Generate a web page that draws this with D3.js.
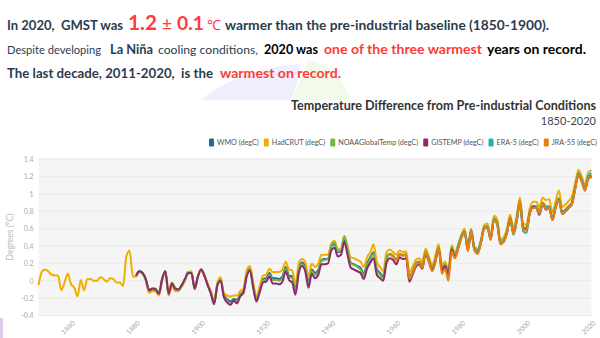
<!DOCTYPE html>
<html>
<head>
<meta charset="utf-8">
<script src="https://cdn.jsdelivr.net/npm/d3@7"></script>
<style>
  body { margin: 0; background: #fff; }
  svg { display: block; font-family: Lato, "Open Sans", sans-serif; }
</style>
</head>
<body>
<svg id="chart" width="600" height="338"></svg>
<script>
// annual global mean temperature difference from 1850-1900 (degC)
var seriesNames = ["WMO (degC)", "HadCRUT (degC)", "NOAAGlobalTemp (degC)", "GISTEMP (degC)", "ERA-5 (degC)", "JRA-55 (degC)"];
var seriesColors = ["#1f6a9a", "#f0ae00", "#72b843", "#8c2a6c", "#27aeb0", "#ea7f0c"];
var startYears = [1880, 1850, 1880, 1880, 1979, 1958];

var wmo = [
  0.06, 0.11, 0.09, 0.01, -0.12, -0.10, -0.11, -0.16, 0.01, 0.11,
  -0.16, -0.04, -0.10, -0.11, -0.06, 0.01, 0.10, 0.10, -0.09, 0.05,
  0.13, 0.06, -0.04, -0.14, -0.25, -0.04, 0.02, -0.17, -0.21, -0.24,
  -0.21, -0.22, -0.16, -0.12, 0.08, 0.14, -0.05, -0.21, -0.10, 0.02,
  0.03, 0.09, 0.03, 0.03, 0.02, 0.05, 0.16, 0.06, 0.05, -0.10,
  0.14, 0.21, 0.16, -0.02, 0.13, 0.09, 0.12, 0.24, 0.25, 0.25,
  0.39, 0.42, 0.33, 0.34, 0.49, 0.35, 0.21, 0.19, 0.17, 0.15,
  0.08, 0.20, 0.27, 0.33, 0.14, 0.09, 0.05, 0.27, 0.31, 0.29,
  0.24, 0.31, 0.29, 0.30, 0.04, 0.11, 0.20, 0.22, 0.18, 0.34,
  0.25, 0.15, 0.25, 0.39, 0.15, 0.19, 0.09, 0.38, 0.29, 0.40,
  0.51, 0.57, 0.37, 0.58, 0.37, 0.34, 0.45, 0.61, 0.63, 0.49,
  0.71, 0.67, 0.44, 0.47, 0.56, 0.73, 0.56, 0.71, 0.92, 0.61,
  0.60, 0.79, 0.86, 0.86, 0.79, 0.90, 0.85, 0.86, 0.72, 0.86,
  0.95, 0.79, 0.82, 0.86, 0.90, 1.09, 1.24, 1.16, 1.06, 1.19, 1.21
];

var hadcrut = [
  -0.05, 0.10, 0.13, 0.11, 0.07, 0.06, 0.06, -0.11, -0.02, 0.08,
  -0.04, -0.08, -0.18, 0.01, -0.11, 0.02, 0.02, 0.00, 0.00, 0.04,
  0.02, -0.01, 0.03, 0.02, -0.02, -0.02, -0.06, 0.28, 0.35, 0.05,
  0.05, 0.10, 0.08, 0.00, -0.14, -0.12, -0.12, -0.17, 0.00, 0.10,
  -0.17, -0.06, -0.12, -0.12, -0.07, 0.00, 0.10, 0.11, -0.10, 0.04,
  0.14, 0.07, -0.03, -0.12, -0.22, -0.02, 0.04, -0.14, -0.17, -0.18,
  -0.17, -0.17, -0.12, -0.09, 0.12, 0.17, -0.02, -0.18, -0.06, 0.06,
  0.07, 0.14, 0.10, 0.10, 0.10, 0.13, 0.22, 0.13, 0.12, -0.04,
  0.20, 0.25, 0.22, 0.05, 0.20, 0.16, 0.20, 0.30, 0.30, 0.30,
  0.43, 0.46, 0.36, 0.37, 0.52, 0.40, 0.27, 0.26, 0.24, 0.22,
  0.16, 0.27, 0.33, 0.42, 0.22, 0.16, 0.11, 0.33, 0.36, 0.33,
  0.30, 0.35, 0.33, 0.34, 0.10, 0.16, 0.24, 0.26, 0.22, 0.37,
  0.28, 0.18, 0.29, 0.42, 0.19, 0.22, 0.13, 0.41, 0.32, 0.42,
  0.53, 0.60, 0.40, 0.60, 0.39, 0.37, 0.47, 0.64, 0.66, 0.52,
  0.75, 0.71, 0.47, 0.50, 0.60, 0.76, 0.60, 0.75, 0.96, 0.66,
  0.65, 0.83, 0.91, 0.91, 0.85, 0.96, 0.93, 0.94, 0.79, 0.92,
  1.04, 0.85, 0.88, 0.92, 0.97, 1.13, 1.28, 1.20, 1.11, 1.25, 1.27
];

var noaa = [
  0.05, 0.10, 0.08, 0.01, -0.10, -0.09, -0.09, -0.14, 0.03, 0.11,
  -0.14, -0.02, -0.08, -0.10, -0.06, 0.01, 0.08, 0.09, -0.08, 0.05,
  0.12, 0.06, -0.05, -0.14, -0.26, -0.05, 0.01, -0.18, -0.23, -0.27,
  -0.23, -0.24, -0.17, -0.13, 0.06, 0.13, -0.06, -0.22, -0.12, 0.00,
  0.01, 0.07, 0.01, 0.01, 0.00, 0.03, 0.14, 0.04, 0.03, -0.12,
  0.12, 0.19, 0.14, -0.04, 0.11, 0.07, 0.10, 0.23, 0.24, 0.25,
  0.40, 0.44, 0.34, 0.35, 0.51, 0.37, 0.20, 0.18, 0.16, 0.13,
  0.06, 0.18, 0.25, 0.31, 0.12, 0.07, 0.03, 0.26, 0.31, 0.29,
  0.24, 0.31, 0.30, 0.31, 0.03, 0.10, 0.19, 0.21, 0.17, 0.34,
  0.25, 0.15, 0.24, 0.39, 0.14, 0.19, 0.09, 0.39, 0.30, 0.40,
  0.52, 0.57, 0.38, 0.59, 0.38, 0.35, 0.46, 0.62, 0.63, 0.50,
  0.72, 0.67, 0.45, 0.47, 0.57, 0.73, 0.57, 0.72, 0.92, 0.62,
  0.61, 0.79, 0.85, 0.86, 0.80, 0.90, 0.86, 0.85, 0.72, 0.86,
  0.94, 0.78, 0.81, 0.85, 0.91, 1.08, 1.22, 1.14, 1.05, 1.18, 1.19
];

var gistemp = [
  0.06, 0.11, 0.09, 0.02, -0.11, -0.09, -0.10, -0.15, 0.02, 0.11,
  -0.15, -0.03, -0.09, -0.10, -0.05, 0.02, 0.09, 0.09, -0.09, 0.05,
  0.13, 0.06, -0.05, -0.15, -0.27, -0.05, 0.00, -0.19, -0.25, -0.28,
  -0.23, -0.26, -0.18, -0.14, 0.05, 0.12, -0.08, -0.24, -0.13, -0.02,
  -0.01, 0.05, -0.03, -0.03, -0.04, -0.01, 0.11, 0.01, -0.02, -0.16,
  0.09, 0.17, 0.11, -0.08, 0.08, 0.03, 0.07, 0.19, 0.19, 0.20,
  0.35, 0.38, 0.28, 0.30, 0.45, 0.30, 0.15, 0.13, 0.11, 0.09,
  0.02, 0.14, 0.21, 0.26, 0.07, 0.03, 0.00, 0.21, 0.26, 0.24,
  0.19, 0.27, 0.25, 0.26, -0.01, 0.07, 0.16, 0.19, 0.14, 0.31,
  0.22, 0.12, 0.22, 0.37, 0.12, 0.17, 0.07, 0.36, 0.27, 0.37,
  0.50, 0.56, 0.35, 0.57, 0.36, 0.32, 0.44, 0.60, 0.61, 0.48,
  0.70, 0.66, 0.43, 0.45, 0.55, 0.72, 0.54, 0.69, 0.90, 0.61,
  0.59, 0.78, 0.85, 0.84, 0.76, 0.89, 0.82, 0.84, 0.70, 0.85,
  0.93, 0.77, 0.80, 0.84, 0.89, 1.07, 1.22, 1.15, 1.04, 1.18, 1.20
];

var era5 = [
  0.40, 0.50, 0.56, 0.38, 0.58, 0.37, 0.34, 0.45, 0.60, 0.62, 0.48,
  0.70, 0.66, 0.43, 0.45, 0.55, 0.72, 0.53, 0.68, 0.88, 0.57,
  0.55, 0.77, 0.84, 0.84, 0.77, 0.88, 0.84, 0.85, 0.71, 0.86,
  0.93, 0.78, 0.81, 0.85, 0.89, 1.06, 1.24, 1.17, 1.07, 1.21, 1.24
];

var jra55 = [
  0.30, 0.28, 0.23, 0.30, 0.29, 0.30, 0.02, 0.09, 0.18, 0.21, 0.15, 0.32,
  0.23, 0.11, 0.21, 0.38, 0.08, 0.14, 0.00, 0.34, 0.26, 0.37,
  0.49, 0.56, 0.34, 0.57, 0.35, 0.31, 0.43, 0.60, 0.62, 0.47,
  0.70, 0.65, 0.42, 0.45, 0.55, 0.72, 0.54, 0.70, 0.92, 0.60,
  0.58, 0.78, 0.84, 0.84, 0.78, 0.89, 0.83, 0.83, 0.70, 0.84,
  0.93, 0.77, 0.80, 0.85, 0.88, 1.06, 1.22, 1.15, 1.04, 1.19, 1.20
];

var seriesValues = [wmo, hadcrut, noaa, gistemp, era5, jra55];
var yTicks = [-0.4, -0.2, 0, 0.2, 0.4, 0.6, 0.8, 1, 1.2, 1.4];
var xTicks = [1860, 1880, 1900, 1920, 1940, 1960, 1980, 2000, 2020];

var svg = d3.select("#chart");
var dark = "#2a3d4f", red = "#ff3b3b";

// faint logo shapes behind the headline
svg.append("path")
    .attr("d", "M200,100 C225,80 262,66 300,64 C300,78 295,92 290,100 Z")
    .attr("fill", "#f0effd");
svg.append("path")
    .attr("d", "M292,100 C298,85 304,70 308,60 C330,64 345,80 350,100 Z")
    .attr("fill", "#f2fbea");
svg.append("rect").attr("x", 0).attr("y", 318).attr("width", 3).attr("height", 20).attr("fill", "#dccbeb");

// headline, three lines of mixed text
var headline = [
  {t: "In 2020,  GMST was", x0: 7, x1: 123, y: 29.5, size: 15, weight: "bold", fill: dark},
  {t: "1.2", x0: 128, x1: 157, y: 29.5, size: 23, weight: "bold", fill: red},
  {t: "\u00b1", x0: 162, x1: 172, y: 29.5, size: 19, weight: "normal", fill: red},
  {t: "0.1", x0: 177, x1: 204, y: 29.5, size: 16, weight: "bold", fill: red},
  {t: "\u2103", x0: 207, x1: 221, y: 29.5, size: 14, weight: "normal", fill: red},
  {t: "warmer than the pre-industrial baseline (1850-1900).", x0: 225, x1: 549, y: 29.5, size: 15, weight: "bold", fill: dark},
  {t: "Despite developing", x0: 7, x1: 101, y: 53.5, size: 13, weight: "normal", fill: dark},
  {t: "La Ni\u00f1a", x0: 110, x1: 153, y: 53.5, size: 13.5, weight: "bold", fill: dark},
  {t: "cooling conditions,", x0: 158, x1: 258, y: 53.5, size: 13, weight: "normal", fill: dark},
  {t: "2020 was", x0: 264, x1: 318, y: 53.5, size: 14.5, weight: "bold", fill: "#000"},
  {t: "one of the three warmest", x0: 324, x1: 482, y: 53.5, size: 14.5, weight: "bold", fill: red},
  {t: "years on record.", x0: 487, x1: 586, y: 53.5, size: 14.5, weight: "bold", fill: "#000"},
  {t: "The last decade, 2011-2020,  is the", x0: 7, x1: 213, y: 77.5, size: 15, weight: "bold", fill: dark},
  {t: "warmest on record.", x0: 220, x1: 341, y: 77.5, size: 15, weight: "bold", fill: red}
];

svg.append("g").selectAll("text")
    .data(headline)
    .enter().append("text")
    .attr("x", function(d) { return d.x0; })
    .attr("y", function(d) { return d.y; })
    .attr("font-size", function(d) { return d.size; })
    .attr("font-weight", function(d) { return d.weight; })
    .attr("fill", function(d) { return d.fill; })
    .style("white-space", "pre")
    .text(function(d) { return d.t; })
    .each(function(d) {
        // scale the font so the run fills its span, then pin the length
        var w = this.getComputedTextLength();
        var k = Math.max(0.8, Math.min(1.2, (d.x1 - d.x0) / w));
        d3.select(this)
            .attr("font-size", d.size * k)
            .attr("textLength", d.x1 - d.x0)
            .attr("lengthAdjust", "spacingAndGlyphs");
    });

// chart title
svg.append("text")
    .attr("x", 596).attr("y", 109.5)
    .attr("text-anchor", "end")
    .attr("font-size", 12.5).attr("font-weight", "bold").attr("fill", "#333")
    .attr("textLength", 305).attr("lengthAdjust", "spacingAndGlyphs")
    .text("Temperature Difference from Pre-industrial Conditions");
svg.append("text")
    .attr("x", 596).attr("y", 125)
    .attr("text-anchor", "end")
    .attr("font-size", 11).attr("fill", "#444")
    .text("1850-2020");

// legend, right aligned
var legend = svg.append("g").attr("font-size", 7.2).attr("fill", "#555");
var items = legend.selectAll("g")
    .data(seriesNames)
    .enter().append("g");
items.append("rect")
    .attr("width", 5).attr("height", 8).attr("rx", 1.2).attr("y", -6.5)
    .attr("fill", function(d, i) { return seriesColors[i]; });
items.append("text")
    .attr("x", 8)
    .text(function(d) { return d; });
var widths = [];
items.each(function() { widths.push(d3.select(this).select("text").node().getComputedTextLength() + 8); });
var gap = (597 - 209 - d3.sum(widths)) / (widths.length - 1);
var lx = 209;
items.attr("transform", function(d, i) {
    var t = "translate(" + lx + ",145)";
    lx += widths[i] + gap;
    return t;
});

// plot
var x = d3.scaleLinear().domain([1850, 2020]).range([38.5, 591.5]);
var y = d3.scaleLinear().domain([-0.4, 1.4]).range([315.5, 159.3]);

svg.append("rect")
    .attr("x", x(1850)).attr("y", y(1.4) - 1)
    .attr("width", x(2020) - x(1850)).attr("height", y(-0.4) - y(1.4) + 1)
    .attr("fill", "#f5f5f5");

svg.append("g")
    .selectAll("line")
    .data(yTicks)
    .enter().append("line")
    .attr("x1", x(1850)).attr("x2", x(2020))
    .attr("y1", function(d) { return y(d); }).attr("y2", function(d) { return y(d); })
    .attr("stroke", "#ebebeb").attr("stroke-width", 1);

var yAxis = svg.append("g")
    .attr("transform", "translate(" + x(1850) + ",0)")
    .call(d3.axisLeft(y).tickValues(yTicks).tickSize(0).tickPadding(5).tickFormat(function(d) { return String(d); }));
yAxis.select(".domain").remove();
yAxis.selectAll("text").attr("font-size", 7).attr("fill", "#aaa").attr("font-family", "Lato, sans-serif");

var xAxis = svg.append("g")
    .attr("transform", "translate(0," + y(-0.4) + ")")
    .call(d3.axisBottom(x).tickValues(xTicks).tickSize(0).tickFormat(d3.format("d")));
xAxis.select(".domain").remove();
xAxis.selectAll("text")
    .attr("font-size", 7).attr("fill", "#aaa").attr("font-family", "Lato, sans-serif")
    .attr("text-anchor", "end")
    .attr("dy", 0).attr("y", 0)
    .attr("transform", "translate(4,8) rotate(-45)");

svg.append("text")
    .attr("transform", "translate(13,237) rotate(-90)")
    .attr("text-anchor", "middle")
    .attr("font-size", 8.5).attr("fill", "#bbb")
    .text("Degrees (\u00b0C)");

var line = d3.line()
    .x(function(d) { return x(d[0]); })
    .y(function(d) { return y(d[1]); })
    .curve(d3.curveMonotoneX);

seriesValues.forEach(function(vals, i) {
    var pts = vals.map(function(v, k) { return [startYears[i] + k, v]; });
    svg.append("path")
        .attr("d", line(pts))
        .attr("fill", "none")
        .attr("stroke", seriesColors[i])
        .attr("stroke-width", 2)
        .attr("stroke-linejoin", "round");
});
</script>
</body>
</html>
